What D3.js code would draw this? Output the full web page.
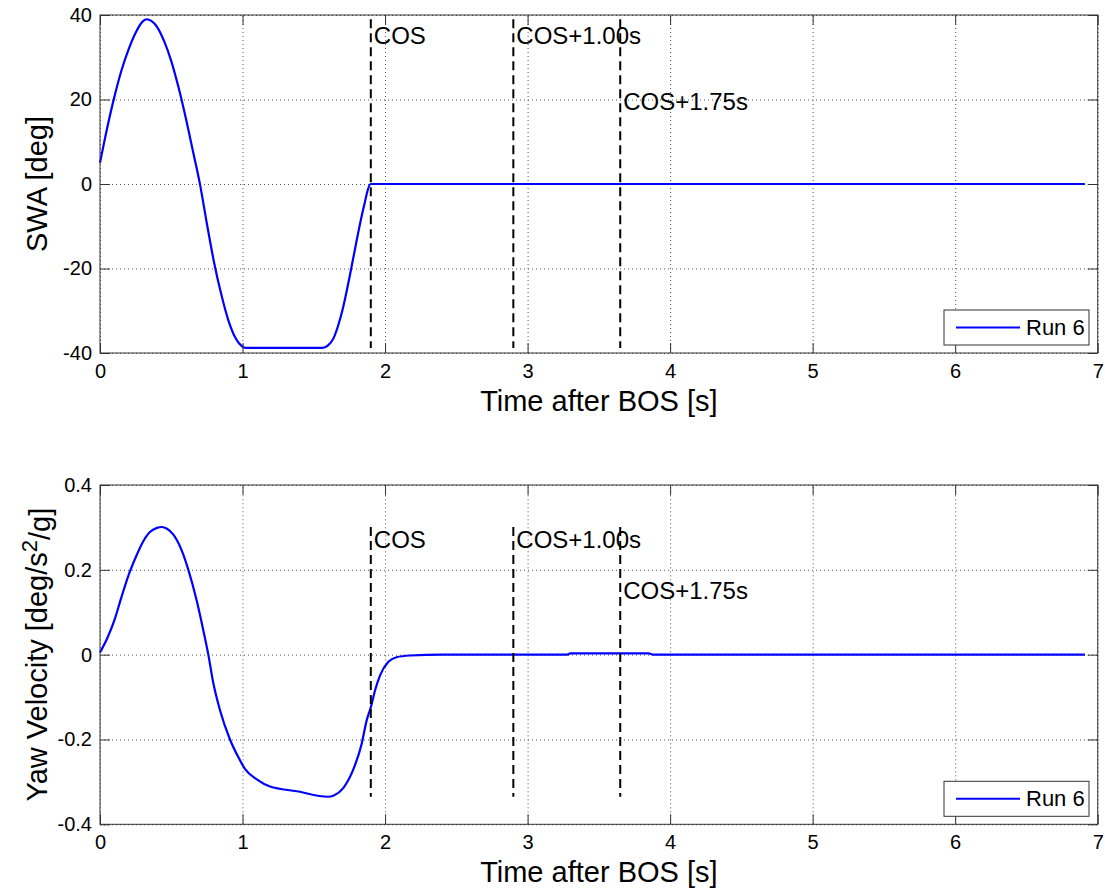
<!DOCTYPE html>
<html><head><meta charset="utf-8">
<script src="https://cdn.jsdelivr.net/npm/d3@7"></script>
<style>body{margin:0;background:#fff} svg{display:block;font-family:"Liberation Sans",Arial,Helvetica,sans-serif}</style>
</head><body><svg id="chart" width="1105" height="892"></svg>
<script>
// ---- data ----
const swaTime  = [0, 0.05, 0.1, 0.15, 0.2, 0.25, 0.3, 0.33, 0.36, 0.4, 0.45, 0.5, 0.55, 0.6, 0.65, 0.7, 0.75, 0.8, 0.85, 0.9, 0.95, 1.0, 1.02, 1.56, 1.6, 1.637, 1.67, 1.7, 1.754, 1.8, 1.848, 1.9, 6.91];
const swaValue = [5, 13.2, 20.5, 26.8, 31.8, 35.8, 38.5, 39.0, 38.6, 37.2, 33.8, 29.1, 23.0, 15.9, 8.1, 0.2, -9.4, -18.5, -26.0, -32.2, -36.4, -38.5, -38.8, -38.8, -38.2, -36.6, -33.6, -30.0, -21.5, -13.5, -5.8, 0, 0];

const yawTime  = [0, 0.05, 0.1, 0.15, 0.2, 0.25, 0.3, 0.35, 0.4, 0.433, 0.47, 0.515, 0.573, 0.62, 0.678, 0.725, 0.76, 0.795, 0.842, 0.912, 0.971, 1.018, 1.1, 1.193, 1.38, 1.6, 1.64, 1.708, 1.778, 1.836, 1.871, 1.9, 1.93, 1.965, 2.023, 2.08, 2.175, 2.4, 3.28, 3.3, 3.85, 3.88, 6.91];
const yawValue = [0.005, 0.038, 0.08, 0.135, 0.187, 0.229, 0.265, 0.289, 0.299, 0.301, 0.297, 0.283, 0.246, 0.2, 0.128, 0.057, 0, -0.067, -0.131, -0.2, -0.242, -0.27, -0.294, -0.311, -0.322, -0.335, -0.332, -0.314, -0.27, -0.21, -0.155, -0.124, -0.084, -0.049, -0.017, -0.006, -0.002, 0, 0, 0.003, 0.003, 0, 0];

const xTicks   = [0, 1, 2, 3, 4, 5, 6, 7];
const swaTicks = [-40, -20, 0, 20, 40];
const yawTicks = [-0.4, -0.2, 0, 0.2, 0.4];
const eventTimes  = [1.9, 2.9, 3.65];
const eventLabels = ["COS", "COS+1.00s", "COS+1.75s"];
const eventLabelFrac = [0.9, 0.9, 0.5];
const seriesName = "Run 6";
const xTitle = "Time after BOS [s]";

// ---- layout ----
const svg = d3.select("#chart");
const left = 100, right = 1097.7;
const x = d3.scaleLinear().domain([0, 7]).range([left, right]);

const panels = [
  {top: 15, bottom: 353, domain: [-40, 40], ticks: swaTicks, t: swaTime, v: swaValue, yTitle: ["SWA [deg]"]},
  {top: 485, bottom: 824.3, domain: [-0.4, 0.4], ticks: yawTicks, t: yawTime, v: yawValue, yTitle: ["Yaw Velocity [deg/s", "2", "/g]"]}
];

const fmt = d => String(d);

panels.forEach(p => {
  const y = d3.scaleLinear().domain(p.domain).range([p.bottom, p.top]);
  const h = p.bottom - p.top, w = right - left;
  const g = svg.append("g");

  // grid
  const gx = g.append("g").attr("transform", `translate(0,${p.bottom})`)
    .call(d3.axisBottom(x).tickValues(xTicks).tickSizeInner(-h).tickSizeOuter(0).tickFormat(""));
  const gy = g.append("g").attr("transform", `translate(${left},0)`)
    .call(d3.axisLeft(y).tickValues(p.ticks).tickSizeInner(-w).tickSizeOuter(0).tickFormat(""));
  [gx, gy].forEach(a => {
    a.select(".domain").remove();
    a.selectAll("line").attr("stroke", "#555").attr("stroke-width", 1).attr("stroke-dasharray", "1,3");
  });

  // data line
  const pts = p.t.map((t, i) => [t, p.v[i]]);
  g.append("path").datum(pts)
    .attr("fill", "none").attr("stroke", "#0000ff").attr("stroke-width", 2.2)
    .attr("stroke-linejoin", "round")
    .attr("d", d3.line().x(d => x(d[0])).y(d => y(d[1])).curve(d3.curveMonotoneX));

  // event lines
  const vmax = d3.max(p.v), vmin = d3.min(p.v);
  eventTimes.forEach((et, i) => {
    g.append("line")
      .attr("x1", x(et)).attr("x2", x(et)).attr("y1", y(vmax)).attr("y2", y(vmin))
      .attr("stroke", "#000").attr("stroke-width", 2).attr("stroke-dasharray", "9,5");
    g.append("text")
      .attr("x", x(et) + 3).attr("y", y(vmax * eventLabelFrac[i])).attr("dy", "0.35em")
      .attr("font-size", 24).attr("fill", "#000").text(eventLabels[i]);
  });

  // axes ticks (inside) + labels
  const axB = g.append("g").attr("transform", `translate(0,${p.bottom})`)
    .call(d3.axisBottom(x).tickValues(xTicks).tickSizeInner(-10).tickSizeOuter(0).tickPadding(11).tickFormat(fmt));
  const axT = g.append("g").attr("transform", `translate(0,${p.top})`)
    .call(d3.axisTop(x).tickValues(xTicks).tickSizeInner(-10).tickSizeOuter(0).tickFormat(""));
  const axL = g.append("g").attr("transform", `translate(${left},0)`)
    .call(d3.axisLeft(y).tickValues(p.ticks).tickSizeInner(-10).tickSizeOuter(0).tickPadding(8).tickFormat(fmt));
  const axR = g.append("g").attr("transform", `translate(${right},0)`)
    .call(d3.axisRight(y).tickValues(p.ticks).tickSizeInner(-10).tickSizeOuter(0).tickFormat(""));
  [axB, axT, axL, axR].forEach(a => {
    a.select(".domain").remove();
    a.selectAll("line").attr("stroke", "#333").attr("stroke-width", 1);
    a.selectAll("text").attr("font-size", 20).attr("fill", "#000").attr("font-family", null);
  });

  // box
  g.append("rect").attr("x", left).attr("y", p.top).attr("width", w).attr("height", h)
    .attr("fill", "none").attr("stroke", "#333").attr("stroke-width", 1);

  // legend
  const lg = g.append("g").attr("transform", `translate(944,${p.bottom - 43})`);
  lg.append("rect").attr("width", 145).attr("height", 35).attr("fill", "#fff").attr("stroke", "#333").attr("stroke-width", 1);
  lg.append("line").attr("x1", 12).attr("x2", 76).attr("y1", 17.5).attr("y2", 17.5).attr("stroke", "#0000ff").attr("stroke-width", 2);
  lg.append("text").attr("x", 82).attr("y", 17.5).attr("dy", "0.35em").attr("font-size", 22).attr("fill", "#000").text(seriesName);

  // titles
  g.append("text").attr("x", (left + right) / 2).attr("y", p.bottom + 58)
    .attr("text-anchor", "middle").attr("font-size", 29).attr("fill", "#000").text(xTitle);
  const yt = g.append("text").attr("transform", `translate(47,${(p.top + p.bottom) / 2}) rotate(-90)`)
    .attr("text-anchor", "middle").attr("font-size", 29).attr("fill", "#000");
  if (p.yTitle.length === 1) {
    yt.text(p.yTitle[0]);
  } else {
    yt.append("tspan").text(p.yTitle[0]);
    yt.append("tspan").attr("dy", "-0.45em").attr("font-size", 22).text(p.yTitle[1]);
    yt.append("tspan").attr("dy", "0.45em").text(p.yTitle[2]);
  }
});
</script></body></html>
